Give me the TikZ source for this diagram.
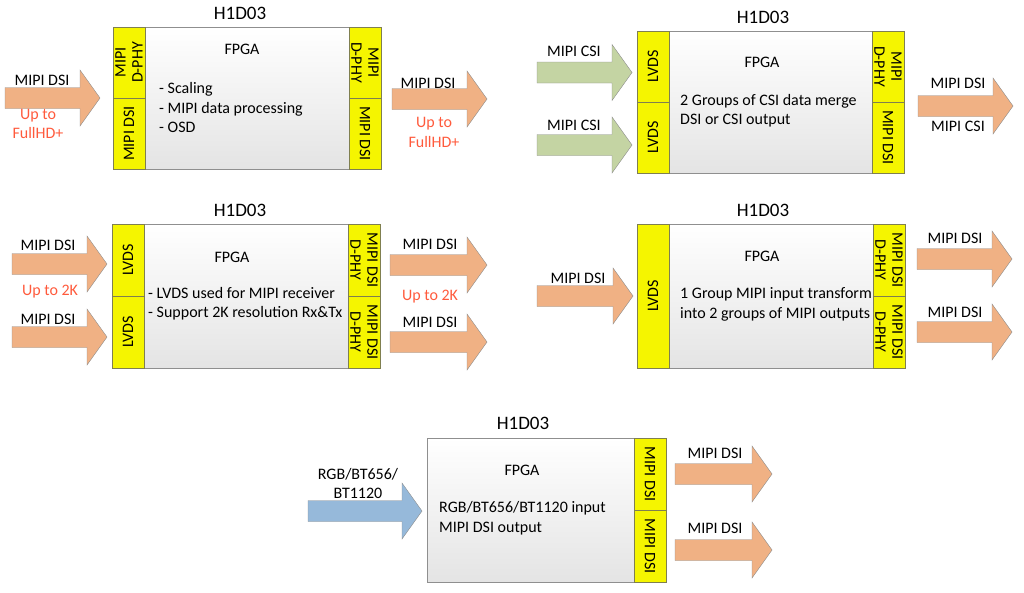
\documentclass[tikz,border=0pt]{standalone}
\usepackage{fontspec}
\setmainfont{Carlito}
\usetikzlibrary{positioning}
\definecolor{arroworange}{HTML}{F0B184}
\definecolor{arrowgreen}{HTML}{C4D4A3}
\definecolor{arrowblue}{HTML}{96B9DA}
\definecolor{arrowedge}{HTML}{8C8C8C}
\definecolor{boxedge}{HTML}{8F8F8F}
\definecolor{boxbottom}{HTML}{E4E4E4}
\definecolor{portyellow}{HTML}{F5F500}
\definecolor{portedge}{HTML}{7F7F50}
\definecolor{upred}{HTML}{FF5A3C}
\tikzset{
  every node/.append style={font=\fontsize{16}{19.5}\selectfont},
  chip/.style={draw=boxedge, top color=white, bottom color=boxbottom, inner sep=0pt},
  strip/.style={draw=portedge, fill=portyellow, minimum width=32pt, inner sep=0pt},
  striptext/.style={align=center, inner sep=0pt, font=\fontsize{16}{17}\selectfont},
  caption/.style={inner sep=0pt},
  redcaption/.style={caption, text=upred, align=center},
  chiptitle/.style={inner sep=0pt, font=\fontsize{19}{22}\selectfont},
  fatarrow/.style={draw=arrowedge, line join=miter}
}
\newcommand\fatarrow[4][arroworange]{
  % #1 (optional) - fill colour
  % #2 - Tikz name of the tail
  % #3 - tail, middle of the body
  % #4 - length
  % for example: \fatarrow{src}{5,98}{95}
  \coordinate (#2) at (#3);
  \draw[fatarrow, fill=#1] (#2) ++(0,-10.5) -- ++({#4-20},0) -- ++(0,-17.5)
    -- ++(20,28) -- ++(-20,28) -- ++(0,-17.5) -- ++({20-#4},0) -- cycle;
}
\newcommand\port[6]{
  % #1 - Tikz name
  % #2 - anchor
  % #3 - corner of the chip
  % #4 - height
  % #5 - rotation of the text
  % #6 - text
  \node[strip, minimum height=#4, anchor=#2] at (#3) (#1) {};
  \node[striptext, rotate=#5] at (#1.center) (#1-text) {#6};
}

\begin{document}
\begin{tikzpicture}[x=1pt, y=-1pt]
  \useasboundingbox (0,0) rectangle (1024,592);

  % scaling
  \node[chip, minimum width=268pt, minimum height=142pt] at (247,98) (scaler) {};
  \port{scaler-in1}{north west}{scaler.north west}{71pt}{90}{MIPI\\D-PHY}
  \port{scaler-in2}{south west}{scaler.south west}{71pt}{90}{MIPI DSI}
  \port{scaler-out1}{north east}{scaler.north east}{71pt}{-90}{MIPI\\D-PHY}
  \port{scaler-out2}{south east}{scaler.south east}{71pt}{-90}{MIPI DSI}
  \node[chiptitle] at (240,13) (scaler-title) {H1D03};
  \node at (242,49) (scaler-fpga) {FPGA};
  \node[caption, align=left, anchor=west] at (159,107.5) (scaler-text)
    {- Scaling\\- MIPI data processing\\- OSD};
  \fatarrow{scaler-src}{5,98}{95}
  \node[caption] at (42,80) (scaler-src-lbl) {MIPI DSI};
  \node[redcaption] at (38,124) (scaler-src-res) {Up to\\FullHD+};
  \fatarrow{scaler-dst}{392,99}{95}
  \node[caption] at (428,83) (scaler-dst-lbl) {MIPI DSI};
  \node[redcaption] at (434,132.5) (scaler-dst-res) {Up to\\FullHD+};

  % merge
  \node[chip, minimum width=267pt, minimum height=142pt] at (770.5,102) (merger) {};
  \port{merger-in1}{north west}{merger.north west}{71pt}{90}{LVDS}
  \port{merger-in2}{south west}{merger.south west}{71pt}{90}{LVDS}
  \port{merger-out1}{north east}{merger.north east}{71pt}{-90}{MIPI\\D-PHY}
  \port{merger-out2}{south east}{merger.south east}{71pt}{-90}{MIPI DSI}
  \node[chiptitle] at (763,17) (merger-title) {H1D03};
  \node at (762,62) (merger-fpga) {FPGA};
  \node[caption, align=left, anchor=west] at (680,110.5) (merger-text)
    {2 Groups of CSI data merge\\DSI or CSI output};
  \fatarrow[arrowgreen]{merger-src1}{537,72.5}{95}
  \node[caption] at (574,51) (merger-src1-lbl) {MIPI CSI};
  \fatarrow[arrowgreen]{merger-src2}{537,145}{95}
  \node[caption] at (574,125) (merger-src2-lbl) {MIPI CSI};
  \fatarrow{merger-dst}{918,106}{95}
  \node[caption] at (958,83) (merger-dst-lbl1) {MIPI DSI};
  \node[caption] at (958,126) (merger-dst-lbl2) {MIPI CSI};

  % lvds receiver
  \node[chip, minimum width=268pt, minimum height=144pt] at (246,296) (receiver) {};
  \port{receiver-in1}{north west}{receiver.north west}{72pt}{90}{LVDS}
  \port{receiver-in2}{south west}{receiver.south west}{72pt}{90}{LVDS}
  \port{receiver-out1}{north east}{receiver.north east}{72pt}{-90}{MIPI DSI\\D-PHY}
  \port{receiver-out2}{south east}{receiver.south east}{72pt}{-90}{MIPI DSI\\D-PHY}
  \node[chiptitle] at (240,210) (receiver-title) {H1D03};
  \node at (232,257) (receiver-fpga) {FPGA};
  \node[caption, align=left, anchor=west] at (148,303.5) (receiver-text)
    {- LVDS used for MIPI receiver\\- Support 2K resolution Rx\&Tx};
  \fatarrow{receiver-src1}{12,264}{95}
  \node[caption] at (48,245) (receiver-src1-lbl) {MIPI DSI};
  \node[redcaption] at (50,292) (receiver-src-res) {Up to 2K};
  \fatarrow{receiver-src2}{12,337}{95}
  \node[caption] at (48,319) (receiver-src2-lbl) {MIPI DSI};
  \fatarrow{receiver-dst1}{390,265}{97}
  \node[caption] at (430,244) (receiver-dst1-lbl) {MIPI DSI};
  \node[redcaption] at (430,297) (receiver-dst-res) {Up to 2K};
  \fatarrow{receiver-dst2}{390,342}{97}
  \node[caption] at (430,322) (receiver-dst2-lbl) {MIPI DSI};

  % one in, two out
  \node[chip, minimum width=268pt, minimum height=144pt] at (771,296) (splitter) {};
  \port{splitter-in}{north west}{splitter.north west}{144pt}{90}{LVDS}
  \port{splitter-out1}{north east}{splitter.north east}{72pt}{-90}{MIPI DSI\\D-PHY}
  \port{splitter-out2}{south east}{splitter.south east}{72pt}{-90}{MIPI DSI\\D-PHY}
  \node[chiptitle] at (763,210) (splitter-title) {H1D03};
  \node at (762,256) (splitter-fpga) {FPGA};
  \node[caption, align=left, anchor=west] at (680,304.5) (splitter-text)
    {1 Group MIPI input transform\\into 2 groups of MIPI outputs};
  \fatarrow{splitter-src}{537,296}{96}
  \node[caption] at (578,278) (splitter-src-lbl) {MIPI DSI};
  \fatarrow{splitter-dst1}{917,259}{95}
  \node[caption] at (955,238) (splitter-dst1-lbl) {MIPI DSI};
  \fatarrow{splitter-dst2}{917,332}{95}
  \node[caption] at (955,312) (splitter-dst2-lbl) {MIPI DSI};

  % rgb to dsi
  \node[chip, minimum width=239pt, minimum height=144pt] at (546.5,510) (bridge) {};
  \port{bridge-out1}{north east}{bridge.north east}{72pt}{-90}{MIPI DSI}
  \port{bridge-out2}{south east}{bridge.south east}{72pt}{-90}{MIPI DSI}
  \node[chiptitle] at (523,423) (bridge-title) {H1D03};
  \node at (522,470) (bridge-fpga) {FPGA};
  \node[caption, align=left, anchor=west] at (439,518) (bridge-text)
    {RGB/BT656/BT1120 input\\MIPI DSI output};
  \fatarrow[arrowblue]{bridge-src}{308,511}{114}
  \node[caption, align=center] at (358,483.5) (bridge-src-lbl) {RGB/BT656/\\BT1120};
  \fatarrow{bridge-dst1}{675,474}{97}
  \node[caption] at (715,453) (bridge-dst1-lbl) {MIPI DSI};
  \fatarrow{bridge-dst2}{675,550}{97}
  \node[caption] at (715,528) (bridge-dst2-lbl) {MIPI DSI};
\end{tikzpicture}
\end{document}
